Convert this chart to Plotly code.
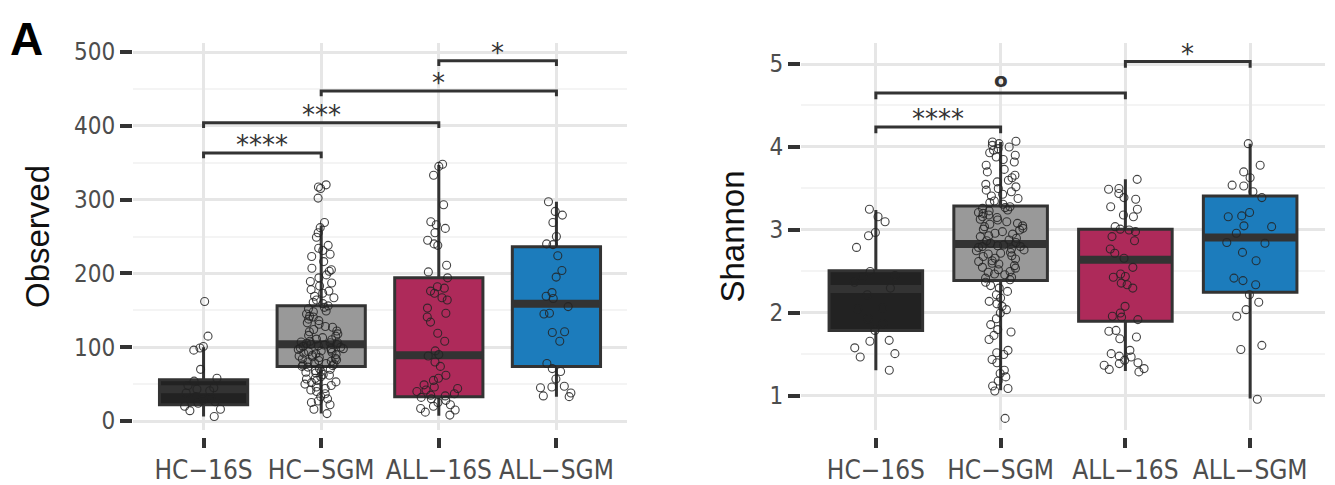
import plotly.graph_objects as go

# ---------------- data ----------------
categories = ["HC\u221216S", "HC\u2212SGM", "ALL\u221216S", "ALL\u2212SGM"]
box_colors = ["#222222", "#999999", "#AE2A5A", "#1C7CBC"]

# Observed (left panel) box statistics
obs_q1 = [22, 74, 33, 74]
obs_median = [43, 104, 89, 159]
obs_q3 = [56, 156, 194, 236]
obs_lower = [6, 10, 7, 33]
obs_upper = [100, 265, 347, 297]

# Observed sample points
obs_hc16s = [162, 115, 101, 99, 96, 70, 58, 54, 48, 45, 43, 41, 38, 33, 31, 28, 26, 24, 20, 16, 14, 6]
obs_hcsgm = [320, 317, 315, 302, 269, 262, 255, 249, 238, 234, 231, 226, 223, 216, 207, 205, 203, 198,
             194, 189, 187, 183, 178, 176, 173, 169, 167, 164, 161, 159,
             156, 154, 152, 149, 148, 145, 142, 141, 138, 136, 133, 131, 128, 127, 124, 122, 121, 118,
             116, 115, 113, 111, 110, 108, 107, 106, 105, 104, 103, 106,
             102, 101, 99, 98, 97, 95, 94, 92, 91, 90, 88, 87, 86, 84, 83, 82, 80, 79, 78, 77, 76, 75,
             96, 93, 89, 85, 81, 100, 104, 98,
             74, 73, 71, 70, 68, 67, 65, 63, 62, 60, 58, 57, 55, 53, 52, 50, 48, 46, 44, 42, 40, 37,
             33, 30, 27, 25, 22, 16, 10, 66]
obs_all16s = [348, 345, 333, 293, 270, 266, 261, 255, 245, 240, 238, 211, 202, 194, 182, 180, 176, 173,
              167, 164, 153, 146, 141, 134, 119, 108, 95, 90, 88, 80, 74, 62, 58, 55, 49, 46, 44, 42,
              40, 37, 35, 34, 32, 30, 28, 25, 22, 20, 17, 15, 12, 8]
obs_allsgm = [297, 284, 279, 269, 250, 240, 239, 224, 204, 195, 174, 169, 166, 155, 145, 146, 121, 120,
              108, 78, 71, 67, 57, 47, 46, 45, 38, 33, 34]

# Shannon (right panel) box statistics
sha_q1 = [1.79, 2.39, 1.90, 2.25]
sha_median = [2.29, 2.83, 2.64, 2.91]
sha_q3 = [2.51, 3.29, 3.01, 3.41]
sha_lower = [1.31, 1.07, 1.30, 0.97]
sha_upper = [3.24, 4.06, 3.61, 4.04]

# Shannon sample points
sha_hc16s = [3.25, 3.16, 3.10, 2.97, 2.93, 2.79, 2.50, 2.44, 2.45, 2.37, 2.30, 2.22, 2.06, 2.05,
             1.93, 1.87, 1.79, 1.67, 1.66, 1.58, 1.51, 1.47, 1.31]
sha_hcsgm = [0.73,
             1.06, 1.09, 1.12, 1.18, 1.23, 1.27, 1.31, 1.40, 1.44, 1.50, 1.52, 1.55, 1.68, 1.73, 1.77,
             1.80, 1.86, 1.93, 2.00, 2.04, 2.08, 2.11, 2.14, 2.18, 2.22, 2.26, 2.30, 2.33, 2.37,
             2.40, 2.42, 2.43, 2.46, 2.47, 2.49, 2.50, 2.52, 2.54, 2.55, 2.57, 2.59, 2.60, 2.62, 2.63,
             2.65, 2.66, 2.68, 2.69, 2.71, 2.72, 2.73, 2.75, 2.76, 2.77, 2.79, 2.80, 2.80, 2.81, 2.82,
             2.84, 2.85, 2.87, 2.88, 2.90, 2.92, 2.93, 2.95, 2.96, 2.98, 3.00, 3.01, 3.02, 3.04, 3.05,
             3.07, 3.08, 3.10, 3.12, 3.13, 3.15, 3.16, 3.18, 3.20, 3.21, 3.23, 3.24, 3.26, 3.27, 3.28,
             3.31, 3.33, 3.35, 3.38, 3.41, 3.43, 3.46, 3.48, 3.50, 3.52, 3.55, 3.58, 3.60, 3.63, 3.66,
             3.70, 3.73, 3.78, 3.82, 3.85, 3.88, 3.90, 3.93, 3.96, 3.98, 4.00, 4.02, 4.04, 4.06, 4.07]
sha_all16s = [3.61, 3.50, 3.49, 3.44, 3.39, 3.37, 3.28, 3.25, 3.18, 3.16, 3.04, 3.00, 2.98, 3.01,
              2.92, 2.87, 2.77, 2.72, 2.66, 2.55, 2.47, 2.44, 2.43, 2.36, 2.34, 2.30, 2.08, 2.00,
              1.96, 1.95, 1.92, 1.79, 1.78, 1.71, 1.69, 1.55, 1.51, 1.48, 1.47, 1.43, 1.40, 1.39,
              1.37, 1.33, 1.32, 1.29]
sha_allsgm = [4.04, 3.78, 3.70, 3.63, 3.54, 3.53, 3.46, 3.39, 3.21, 3.17, 3.16, 3.05, 3.04, 2.96,
              2.84, 2.85, 2.73, 2.63, 2.42, 2.39, 2.34, 2.22, 2.13, 2.04, 1.96, 1.61, 1.56, 0.96]

# significance comparisons
obs_pairs = [(0, 1), (0, 2), (1, 3), (2, 3)]
obs_bracket_y = [363, 404, 447, 488]
obs_labels = ["****", "***", "*", "*"]
sha_pairs = [(0, 1), (0, 2), (2, 3)]
sha_bracket_y = [4.24, 4.65, 5.03]
sha_labels = ["****", "o", "*"]

# ---------------- figure ----------------
TICKFONT = "DejaVu Sans Condensed, Liberation Sans, Arial, sans-serif"
DARK = "#333333"

fig = go.Figure()


def add_panel(xa, ya, q1, med, q3, lo, hi, samples, pairs, bys, labels, tip):
    for i, cat in enumerate(categories):
        fig.add_trace(go.Box(
            x=[cat], q1=[q1[i]], median=[med[i]], q3=[q3[i]],
            lowerfence=[lo[i]], upperfence=[hi[i]],
            fillcolor=box_colors[i], line=dict(color=DARK, width=3),
            width=0.75, whiskerwidth=0, boxpoints=False,
            xaxis=xa, yaxis=ya, showlegend=False, hoverinfo="skip"))
    # thick median bands (ggplot fatten)
    fig.add_trace(go.Box(
        x=categories, q1=med, median=med, q3=med, lowerfence=med, upperfence=med,
        fillcolor="rgba(0,0,0,0)", line=dict(color=DARK, width=8),
        width=0.75, whiskerwidth=0, boxpoints=False,
        xaxis=xa, yaxis=ya, showlegend=False, hoverinfo="skip"))
    # jittered points
    for i, cat in enumerate(categories):
        vals = samples[i]
        fig.add_trace(go.Box(
            x=[cat] * len(vals), y=vals, boxpoints="all", jitter=0.95, pointpos=0,
            width=0.44, fillcolor="rgba(0,0,0,0)", line=dict(width=0, color="rgba(0,0,0,0)"),
            marker=dict(symbol="circle", size=8, color="rgba(0,0,0,0)",
                        line=dict(color="rgba(35,35,35,0.85)", width=1.1)),
            xaxis=xa, yaxis=ya, showlegend=False, hoverinfo="skip"))
    # brackets
    for (a, b), yb in zip(pairs, bys):
        fig.add_trace(go.Scatter(
            x=[categories[a], categories[a], categories[b], categories[b]],
            y=[yb - tip, yb, yb, yb - tip], mode="lines",
            line=dict(color=DARK, width=3), xaxis=xa, yaxis=ya,
            showlegend=False, hoverinfo="skip"))
    for (a, b), yb, lab in zip(pairs, bys, labels):
        if lab == "o":
            fnt = dict(family="DejaVu Sans", size=20, color=DARK, weight="bold")
            ys = -1
        else:
            fnt = dict(family="DejaVu Sans, Liberation Sans", size=26, color=DARK)
            ys = -9
        fig.add_annotation(x=(a + b) / 2, y=yb, xref=xa, yref=ya, text=lab, showarrow=False,
                           yanchor="bottom", yshift=ys, font=fnt)


add_panel("x", "y", obs_q1, obs_median, obs_q3, obs_lower, obs_upper,
          [obs_hc16s, obs_hcsgm, obs_all16s, obs_allsgm],
          obs_pairs, obs_bracket_y, obs_labels, 7)
add_panel("x2", "y2", sha_q1, sha_median, sha_q3, sha_lower, sha_upper,
          [sha_hc16s, sha_hcsgm, sha_all16s, sha_allsgm],
          sha_pairs, sha_bracket_y, sha_labels, 0.075)

# the page body adds an 8 px offset; size the figure so it fills the window
OFF = 8
W, H = 1335 - OFF, 485 - OFF
ml, mr, mt, mb = 133 - OFF, 10, 43 - OFF, 48
pw, ph = W - ml - mr, H - mt - mb
ybot = (437 - 430) / ph

xcommon = dict(type="category", categoryorder="array", categoryarray=categories,
               range=[-0.6, 3.6], anchor="free", position=0, automargin=False,
               showgrid=True, gridcolor="#e6e6e6", gridwidth=3,
               ticks="outside", ticklen=10, tickwidth=4, tickcolor=DARK,
               showline=False, zeroline=False,
               tickfont=dict(family=TICKFONT, size=26, color="#4d4d4d"))
ycommon = dict(showgrid=True, gridcolor="#e6e6e6", gridwidth=3, automargin=False,
               ticks="outside", ticklen=12, tickwidth=4, tickcolor=DARK,
               showline=False, zeroline=False, domain=[ybot, 1],
               tickfont=dict(family=TICKFONT, size=24, color="#4d4d4d"))

fig.update_layout(
    width=W, height=H,
    margin=dict(l=ml, r=mr, t=mt, b=mb),
    paper_bgcolor="white", plot_bgcolor="white",
    boxmode="overlay",
    xaxis=dict(xcommon, domain=[0, (627 - 133) / pw]),
    xaxis2=dict(xcommon, domain=[(801 - 133) / pw, 1]),
    yaxis=dict(ycommon, anchor="x", range=[-12.2, 512.2], tickvals=[0, 100, 200, 300, 400, 500],
               minor=dict(dtick=50, tick0=0, showgrid=True, gridcolor="#f4f4f4", gridwidth=2, ticks=""),
               title=dict(text="Observed", standoff=14,
                          font=dict(family="Liberation Sans, Arial, sans-serif", size=33, color="#111111"))),
    yaxis2=dict(ycommon, anchor="x2", range=[0.59, 5.253], tickvals=[1, 2, 3, 4, 5],
                minor=dict(dtick=0.5, tick0=0, showgrid=True, gridcolor="#f4f4f4", gridwidth=2, ticks=""),
                title=dict(text="Shannon", standoff=14,
                           font=dict(family="Liberation Sans, Arial, sans-serif", size=33, color="#111111"))),
)

fig.add_annotation(x=(0 - ml) / pw, y=1 + (mt - 3) / ph, xref="paper", yref="paper",
                   xanchor="left", yanchor="top",
                   text="<b>A</b>", showarrow=False,
                   font=dict(family="Liberation Sans, Arial, sans-serif", size=46, color="black"))

fig.write_html("out.html")
